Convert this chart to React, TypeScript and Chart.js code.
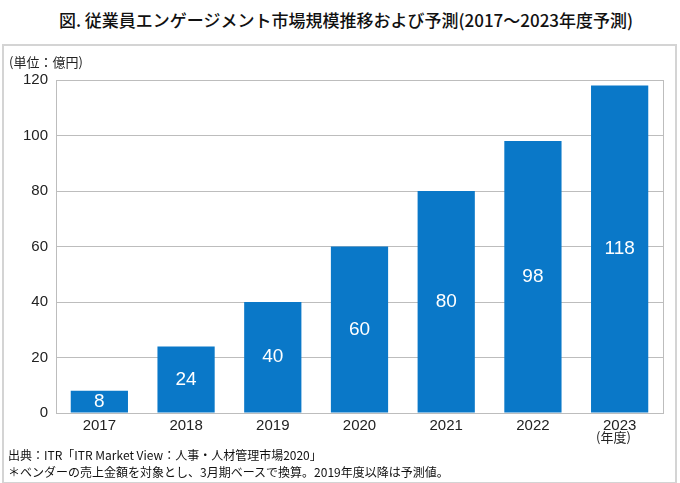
import React, { useEffect, useRef } from "react";
import { Chart, registerables } from "chart.js";

Chart.register(...registerables);

const categories = ["2017", "2018", "2019", "2020", "2021", "2022", "2023"];
const values = [8, 24, 40, 60, 80, 98, 118];
const yTicks = [0, 20, 40, 60, 80, 100, 120];

const title = "図. 従業員エンゲージメント市場規模推移および予測(2017～2023年度予測)";
const unitLabel = "(単位：億円)";
const yearLabel = "(年度)";
const source = "出典：ITR「ITR Market View：人事・人材管理市場2020」";
const note = "＊ベンダーの売上金額を対象とし、3月期ベースで換算。2019年度以降は予測値。";

const BAR = "#0a78c8";
const GRID = "#bdbdbd";
const NUM_FONT = "'Liberation Sans', Arial, 'Noto Sans CJK JP', sans-serif";
const JP_FONT = "'Noto Sans CJK JP', 'Liberation Sans', sans-serif";

export default function App() {
  const ref = useRef<HTMLCanvasElement | null>(null);

  useEffect(() => {
    if (!ref.current) return;
    const frame = {
      id: "frame",
      afterDraw(chart: any) {
        const { ctx, chartArea } = chart;
        ctx.save();
        ctx.strokeStyle = GRID;
        ctx.lineWidth = 1;
        ctx.strokeRect(
          Math.round(chartArea.left) + 0.5,
          Math.round(chartArea.top) + 0.5,
          Math.round(chartArea.right - chartArea.left),
          Math.round(chartArea.bottom - chartArea.top)
        );
        ctx.restore();
      },
    };
    const labels = {
      id: "barLabels",
      afterDatasetsDraw(chart: any) {
        const { ctx } = chart;
        const meta = chart.getDatasetMeta(0);
        ctx.save();
        ctx.fillStyle = "#ffffff";
        ctx.font = `19px ${NUM_FONT}`;
        ctx.textAlign = "center";
        ctx.textBaseline = "middle";
        meta.data.forEach((el: any, i: number) => {
          const v = chart.data.datasets[0].data[i];
          ctx.fillText(String(v), el.x, (el.y + el.base) / 2);
        });
        ctx.restore();
      },
    };
    const chart = new Chart(ref.current, {
      type: "bar",
      data: {
        labels: categories,
        datasets: [
          {
            data: values,
            backgroundColor: BAR,
            borderWidth: 0,
            categoryPercentage: 1,
            barPercentage: 0.66,
          },
        ],
      },
      options: {
        animation: false,
        responsive: false,
        maintainAspectRatio: false,
        devicePixelRatio: 1,
        layout: { padding: { left: 0, top: 80, right: 17, bottom: 40 } },
        plugins: { legend: { display: false }, tooltip: { enabled: false }, title: { display: false } },
        scales: {
          x: {
            grid: { display: false, drawTicks: false },
            border: { display: true, color: GRID },
            ticks: { color: "#222", font: { size: 15, family: NUM_FONT }, padding: 4 },
            afterFit(scale: any) {
              scale.height = 30;
            },
          },
          y: {
            min: 0,
            max: 120,
            grid: { color: GRID, drawTicks: false },
            border: { display: true, color: GRID },
            afterBuildTicks(scale: any) {
              scale.ticks = yTicks.map((v) => ({ value: v }));
            },
            ticks: { color: "#222", font: { size: 15, family: NUM_FONT }, padding: 8 },
            afterFit(scale: any) {
              scale.width = 56;
            },
          },
        },
      },
      plugins: [frame, labels],
    });
    return () => chart.destroy();
  }, []);

  const text: React.CSSProperties = { position: "absolute", whiteSpace: "nowrap", color: "#111", fontFamily: JP_FONT };

  return (
    <div style={{ position: "fixed", left: 0, top: 0, width: 680, height: 483, background: "#fff", overflow: "hidden" }}>
      <div
        style={{
          position: "absolute",
          left: 2,
          top: 44,
          width: 675,
          height: 440,
          border: "2px solid #d4d4d4",
          boxSizing: "border-box",
        }}
      />
      <div style={{ ...text, left: 0, width: 692, top: 8, textAlign: "center", fontSize: 17, fontWeight: 500, lineHeight: "24px" }}>{title}</div>
      <canvas ref={ref} width={680} height={483} style={{ position: "absolute", left: 0, top: 0, width: 680, height: 483 }} />
      <div style={{ ...text, left: 9, top: 53, fontSize: 13, lineHeight: "18px", color: "#222" }}>{unitLabel}</div>
      <div style={{ ...text, left: 596, top: 428, fontSize: 13, lineHeight: "18px", color: "#222" }}>{yearLabel}</div>
      <div style={{ ...text, left: 8, top: 446, fontSize: 12, lineHeight: "17px", color: "#111" }}>{source}</div>
      <div style={{ ...text, left: 8, top: 463, fontSize: 12, lineHeight: "17px", color: "#111" }}>{note}</div>
    </div>
  );
}
